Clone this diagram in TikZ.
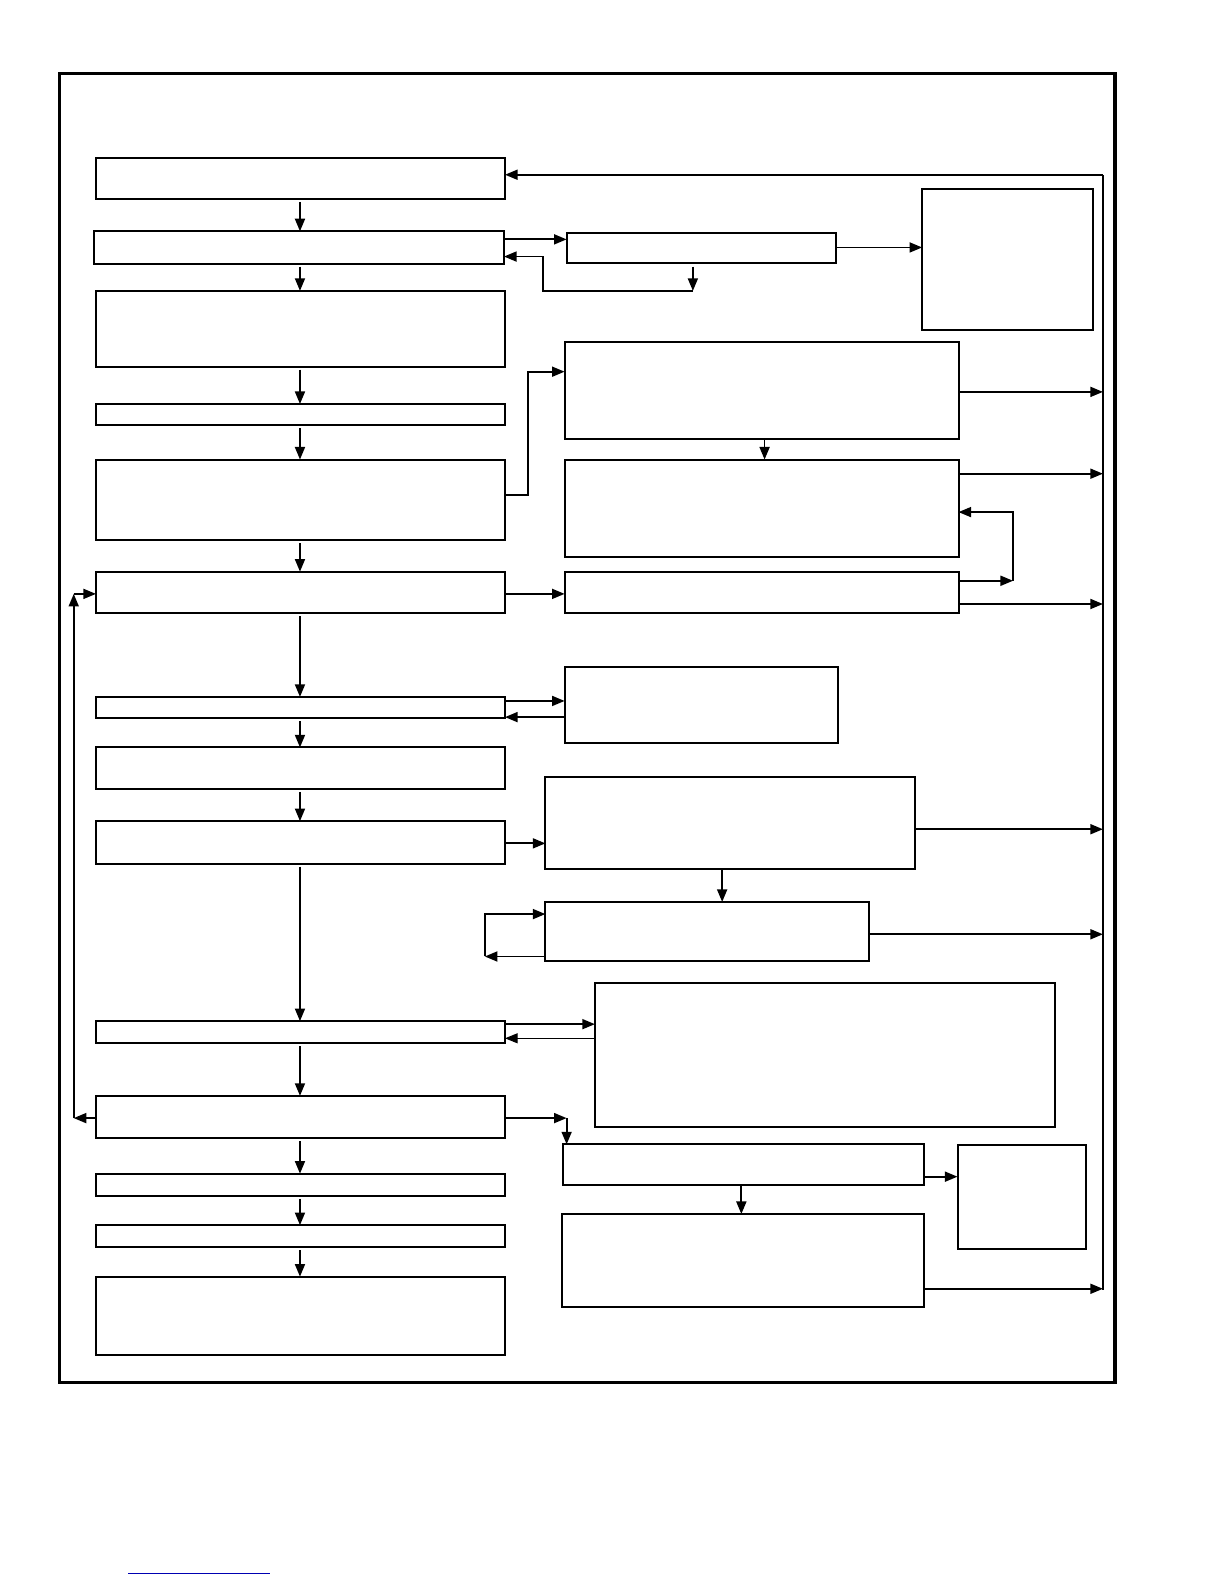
\documentclass[tikz,border=0pt]{standalone}
\usetikzlibrary{arrows.meta}
\newcommand\bx[5]{\node[box,minimum width={(#4-#2)*0.505pt},minimum height={(#5-#3)*0.505pt}] (#1) at ({(#2+#4)/2},{(#3+#5)/2}) {};}
\begin{document}
\begin{tikzpicture}[x=0.505pt,y=-0.505pt,
  box/.style={draw,line width=1pt,inner sep=0pt,outer sep=0pt},
  arr/.style={-{Triangle[length=6.3pt,width=5pt]},line width=0.9pt},
  ln/.style={line width=0.9pt}]
  \def\mx{297}
  \useasboundingbox (0,0) rectangle (1211.9,1568.3);
  \draw[line width=1.7pt] (59,73) rectangle (1104,1369);

  % left column
  \bx{B1}{95}{156}{500}{197}
  \bx{B2}{93}{229}{499}{261}
  \bx{B3}{95}{288}{500}{363}
  \bx{B4}{95}{400}{500}{421}
  \bx{B5}{95}{455}{500}{535}
  \bx{B6}{95}{566}{500}{607}
  \bx{B7}{95}{690}{500}{711}
  \bx{B8}{95}{740}{500}{781}
  \bx{B9}{95}{813}{500}{855}
  \bx{B10}{95}{1011}{500}{1033}
  \bx{B11}{95}{1085}{500}{1127}
  \bx{B12}{95}{1162}{500}{1184}
  \bx{B13}{95}{1213}{500}{1235}
  \bx{B14}{95}{1264}{500}{1342}

  % right side
  \bx{R1}{561}{231}{828}{260}
  \bx{R2}{913}{187}{1082}{327}
  \bx{R3}{559}{339}{949}{435}
  \bx{R4}{559}{455}{949}{551}
  \bx{R5}{559}{566}{949}{607}
  \bx{R6}{559}{660}{830}{736}
  \bx{R7}{540}{769}{906}{860}
  \bx{R8}{540}{893}{860}{951}
  \bx{R9}{589}{973}{1045}{1116}
  \bx{R10}{557}{1133}{915}{1173}
  \bx{R11}{948}{1134}{1075}{1237}
  \bx{R12}{556}{1202}{915}{1294}

  \foreach \a/\b in {B1/B2,B2/B3,B3/B4,B4/B5,B5/B6,B6/B7,B7/B8,B8/B9,B9/B10,B10/B11,B11/B12,B12/B13,B13/B14}
    \draw[arr] ([yshift=-1.5pt]\a.south -| \mx,0) -- (\b.north -| \mx,0);

  % feedback bus
  \coordinate (bt) at (1092,173);
  \coordinate (bb) at (1092,1277);
  \draw[ln] (bb) -- (bt);
  \draw[arr] (bt) -- (B1.east |- bt);
  \foreach \n/\y in {R3/388,R4/469,R5/598,R7/821,R8/925,R12/1276}
    \draw[arr] (\n.east |- 0,\y) -- (bb |- 0,\y);

  \draw[arr] (B2.east |- 0,237) -- (R1.west |- 0,237);
  \coordinate (r1d) at (686,288);
  \draw[arr] ([yshift=-2pt]R1.south -| r1d) -- (r1d);
  \draw[arr] (r1d) -- (538,288) -- (538,254) -- (B2.east |- 0,254);
  \draw[arr] (R1.east |- 0,245) -- (R2.west |- 0,245);

  \draw[arr] (B5.east |- 0,490) -- (523,490) -- (523,368) -- (R3.west |- 0,368);
  \draw[arr] (R3.south -| 757,0) -- (R4.north -| 757,0);
  \coordinate (lp) at (1003,575);
  \draw[arr] (R5.east |- lp) -- (lp);
  \draw[arr] (lp) -- (1003,507) -- (R4.east |- 0,507);
  \draw[arr] (B6.east |- 0,588) -- (R5.west |- 0,588);

  \draw[arr] (B7.east |- 0,694) -- (R6.west |- 0,694);
  \draw[arr] (R6.west |- 0,710) -- (B7.east |- 0,710);

  \draw[arr] (B9.east |- 0,835) -- (R7.west |- 0,835);
  \draw[arr] (R7.south -| 715,0) -- (R8.north -| 715,0);
  \coordinate (sl) at (480,947);
  \draw[arr] (R8.west |- sl) -- (sl);
  \draw[arr] (sl) -- (480,905) -- (R8.west |- 0,905);

  \draw[arr] (B10.east |- 0,1014) -- (R9.west |- 0,1014);
  \draw[arr,line width=0.5pt] (R9.west |- 0,1028) -- (B10.east |- 0,1028);

  \coordinate (kn) at (561,1107);
  \draw[arr] (B11.east |- kn) -- (kn);
  \draw[arr] (kn) -- (R10.north -| kn);
  \draw[arr] (R10.east |- 0,1165) -- (R11.west |- 0,1165);
  \draw[arr] (R10.south -| 734,0) -- (R12.north -| 734,0);

  % left loop back
  \coordinate (lb) at (73,1107);
  \coordinate (lt) at (73,588);
  \draw[arr] (B11.west |- lb) -- (lb);
  \draw[arr] (lb) -- (lt);
  \draw[arr] (lt) -- (B6.west |- lt);

  \draw[blue!70!black,line width=0.6pt] (127,1558) -- (267,1558);
\end{tikzpicture}
\end{document}
